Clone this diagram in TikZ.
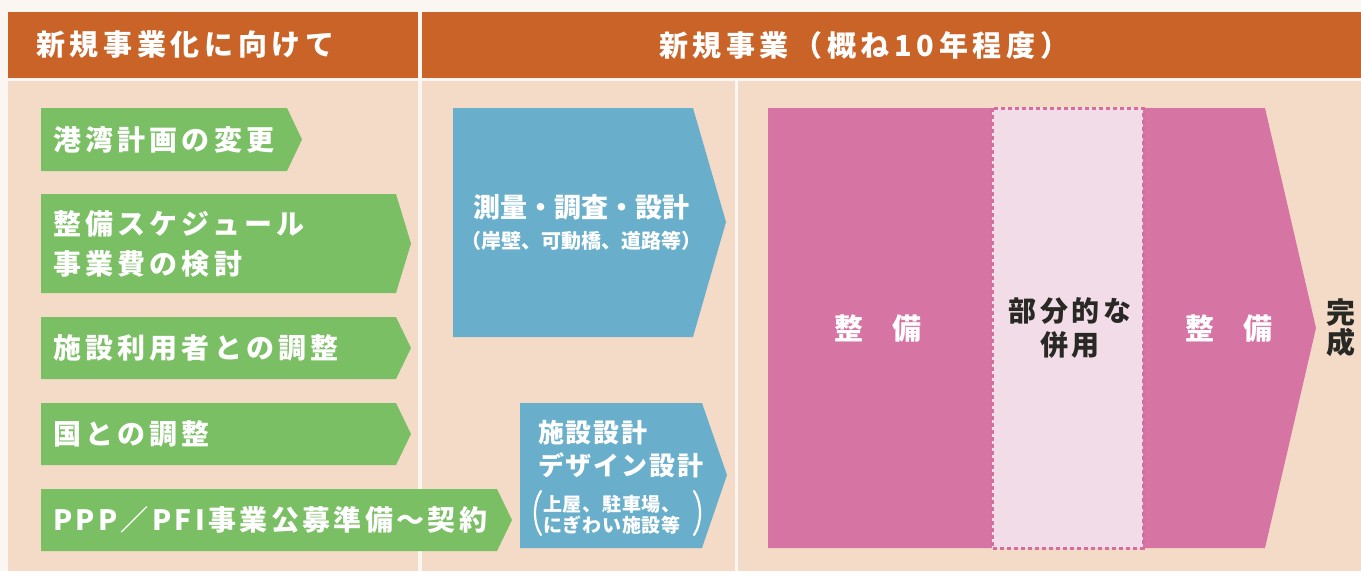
\documentclass[tikz,border=0pt]{standalone}
\usepackage{fontspec}
\setmainfont{Noto Sans CJK JP}
\definecolor{bgc}{RGB}{251,246,242}
\definecolor{hdr}{RGB}{201,99,39}
\definecolor{beige}{RGB}{244,219,200}
\definecolor{grn}{RGB}{123,191,101}
\definecolor{blu}{RGB}{105,175,203}
\definecolor{pnk}{RGB}{214,116,164}
\definecolor{dpnk}{RGB}{210,110,160}
\definecolor{lpnk}{RGB}{242,220,232}
\definecolor{dark}{RGB}{40,40,36}
\newcommand\hdrfont{\bfseries\fontsize{29}{32}\selectfont\addfontfeature{LetterSpace=16}}
\newcommand\gfont{\bfseries\fontsize{28}{40}\selectfont\addfontfeature{LetterSpace=15}}
\newcommand\gfontB{\bfseries\fontsize{28}{40}\selectfont\addfontfeature{LetterSpace=12}}
\newcommand\bfontA{\bfseries\fontsize{27}{30}\selectfont}
\newcommand\bfontB{\bfseries\fontsize{20}{22}\selectfont}
\newcommand\bfontC{\bfseries\fontsize{26}{32}\selectfont\addfontfeature{LetterSpace=7}}
\newcommand\bfontD{\bfseries\fontsize{19}{20}\selectfont\addfontfeature{LetterSpace=4}}
\newcommand\pfont{\bfseries\fontsize{29}{34}\selectfont}
\newcommand\mfont{\bfseries\fontsize{28}{34}\selectfont\addfontfeature{LetterSpace=14}}
\newcommand\kfont{\bfseries\fontsize{29}{30}\selectfont}
\tikzset{
  hdrtext/.style={text=white, font=\hdrfont, inner sep=0},
  gtext/.style={anchor=west, text=white, font=\gfont, inner sep=0, align=left},
  wtext/.style={text=white, inner sep=0},
  dtext/.style={text=dark, inner sep=0, align=center},
  garrow/.style={fill=grn},
  barrow/.style={fill=blu},
  paren/.style={draw=white, line width=2.2pt, line cap=round},
}
\begin{document}
\begin{tikzpicture}[x=1pt,y=-1pt]
\useasboundingbox (0,0) rectangle (1361,571);
\fill[bgc] (0,0) rectangle (1361,571);
% header
\fill[hdr] (8,12) rectangle (418,78);
\fill[hdr] (422,12) rectangle (1361,78);
% body columns
\fill[beige] (8,81) rectangle (418,571);
\fill[beige] (422,81) rectangle (734.5,571);
\fill[beige] (738,81) rectangle (1361,571);
\node[hdrtext, anchor=west] (h1) at (36,45) {新規事業化に向けて};
\node[hdrtext] (h2) at (864,45) {新規事業（概ね10年程度）};
% green arrows
\fill[garrow] (41,108) -- (287,108) -- (302,139.5) -- (287,171) -- (41,171) -- cycle;
\fill[garrow] (41,194) -- (396,194) -- (411,243.5) -- (396,293) -- (41,293) -- cycle;
\fill[garrow] (41,317) -- (396,317) -- (411,348) -- (396,379) -- (41,379) -- cycle;
\fill[garrow] (41,403) -- (396,403) -- (411,434) -- (396,465) -- (41,465) -- cycle;
\fill[garrow] (41,489) -- (497,489) -- (512,520) -- (497,551) -- (41,551) -- cycle;
\node[gtext] (g1) at (53,139.5) {港湾計画の変更};
\node[gtext] (g2) at (53,244) {整備スケジュール\\事業費の検討};
\node[gtext] (g3) at (53,348) {施設利用者との調整};
\node[gtext] (g4) at (53,434) {国との調整};
\node[gtext, font=\gfontB] (g5) at (53,520) {PPP／PFI事業公募準備～契約};
% blue arrows
\fill[barrow] (453,108) -- (693,108) -- (726,222) -- (693,337) -- (453,337) -- cycle;
\node[wtext, font=\bfontA] (b1) at (581,207) {測量・調査・設計};
\node[wtext, font=\bfontB] (b1s) at (581,241) {（岸壁、可動橋、道路等）};
\fill[barrow] (520,403) -- (702,403) -- (727,475) -- (702,548) -- (520,548) -- cycle;
\node[wtext, font=\bfontC, anchor=west] (b2a) at (538,433) {施設設計};
\node[wtext, font=\bfontC, anchor=west] (b2b) at (538,465) {デザイン設計};
\node[wtext, font=\bfontD, anchor=west] (b2c) at (543,504) {上屋、駐車場、};
\node[wtext, font=\bfontD, anchor=west] (b2d) at (543,525) {にぎわい施設等};
\draw[paren] (541,491) .. controls (533,503) and (533,523) .. (541,535);
\draw[paren] (694,491) .. controls (702,503) and (702,523) .. (694,535);
% pink arrow
\fill[pnk] (768,108) -- (1265,108) -- (1316,328) -- (1265,548) -- (768,548) -- cycle;
\fill[lpnk] (992,108) rectangle (1143,548);
\draw[dpnk, line width=3pt, dash pattern=on 4pt off 3pt] (992,108) rectangle (1143,548);
\node[wtext, font=\pfont] (p1) at (878,329) {整　備};
\node[wtext, font=\pfont] (p2) at (1229,329) {整　備};
\node[dtext, font=\mfont] (m) at (1070,328) {部分的な\\併用};
\node[dtext, font=\kfont, text=dark] (k) at (1341,328) {完\\成};
\end{tikzpicture}
\end{document}
